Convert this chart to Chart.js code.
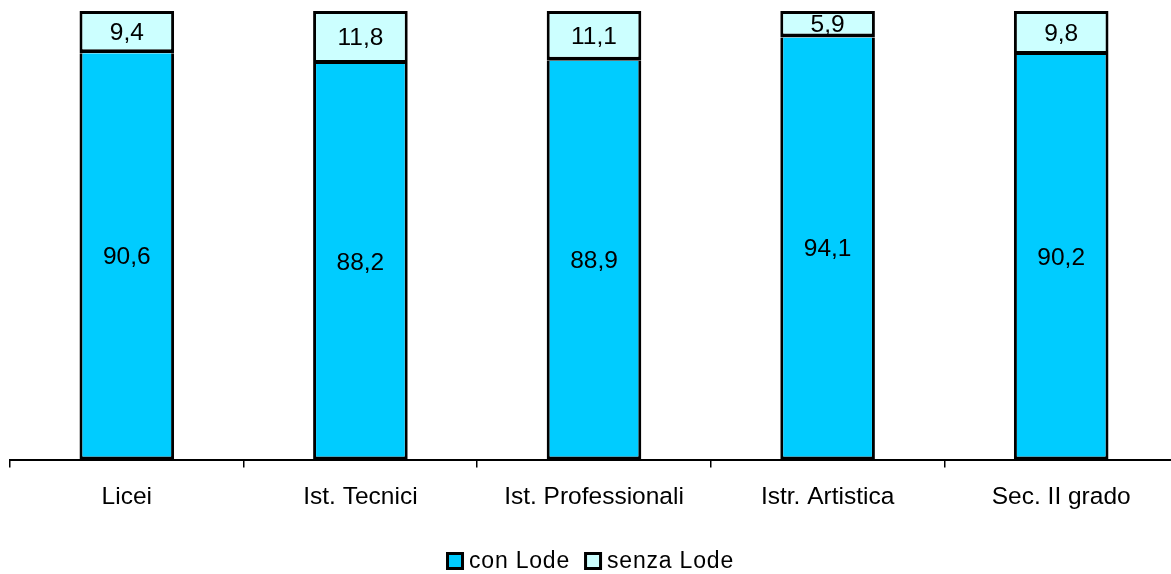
<!DOCTYPE html>
<html lang="it">
<head>
<meta charset="utf-8">
<title>Diplomati con 100: con Lode / senza Lode</title>
<script src="https://cdn.jsdelivr.net/npm/chart.js@4/dist/chart.umd.min.js"></script>
<style>
  html, body { margin: 0; padding: 0; background: #ffffff; overflow: hidden; }
  #wrap { width: 1180px; height: 574px; }
</style>
</head>
<body>
<div id="wrap"><canvas id="chart" width="1180" height="574"></canvas></div>
<script>
// Categorie (tipo di scuola)
const categories = ['Licei', 'Ist. Tecnici', 'Ist. Professionali', 'Istr. Artistica', 'Sec. II grado'];
// Percentuali per serie
const conLode = [90.6, 88.2, 88.9, 94.1, 90.2];
const senzaLode = [9.4, 11.8, 11.1, 5.9, 9.8];
const seriesNames = ['con Lode', 'senza Lode'];

const FONT = 'Liberation Sans, Arial, Helvetica, sans-serif';

// Etichette dei valori al centro di ogni segmento, con virgola decimale
const valueLabels = {
  id: 'valueLabels',
  afterDatasetsDraw(chart) {
    const ctx = chart.ctx;
    ctx.save();
    ctx.font = '24.5px ' + FONT;
    ctx.fillStyle = '#000000';
    ctx.textAlign = 'center';
    ctx.textBaseline = 'middle';
    chart.data.datasets.forEach((ds, di) => {
      const meta = chart.getDatasetMeta(di);
      meta.data.forEach((bar, i) => {
        const p = bar.getProps(['x', 'y', 'base'], true);
        const txt = ds.data[i].toFixed(1).replace('.', ',');
        ctx.fillText(txt, p.x, (p.y + p.base) / 2 + 1);
      });
    });
    ctx.restore();
  }
};

// Legenda in basso, centrata: quadratino bordato + nome della serie
const bottomLegend = {
  id: 'bottomLegend',
  afterDraw(chart) {
    const ctx = chart.ctx;
    const box = 18, gapText = 5, gapItem = 14;
    const cy = 561;
    ctx.save();
    ctx.font = '23px ' + FONT;
    ctx.letterSpacing = '0.8px';
    ctx.textBaseline = 'middle';
    ctx.textAlign = 'left';
    const items = chart.data.datasets.map(ds => ({
      text: ds.label,
      color: ds.backgroundColor,
      w: ctx.measureText(ds.label).width
    }));
    let total = 0;
    items.forEach((it, i) => {
      total += box + gapText + it.w + (i < items.length - 1 ? gapItem : 0);
    });
    let x = chart.width / 2 - total / 2;
    items.forEach(it => {
      ctx.fillStyle = it.color;
      ctx.fillRect(x, cy - box / 2, box, box);
      ctx.strokeStyle = '#000000';
      ctx.lineWidth = 3;
      ctx.strokeRect(x + 1.5, cy - box / 2 + 1.5, box - 3, box - 3);
      ctx.fillStyle = '#000000';
      ctx.fillText(it.text, x + box + gapText, cy + 1);
      x += box + gapText + it.w + gapItem;
    });
    ctx.restore();
  }
};

new Chart(document.getElementById('chart'), {
  type: 'bar',
  data: {
    labels: categories,
    datasets: [
      {
        label: seriesNames[0],
        data: conLode,
        backgroundColor: '#00CCFF',
        borderColor: '#000000',
        borderWidth: 3,
        borderSkipped: 'top',
        inflateAmount: 0,
        categoryPercentage: 1,
        barPercentage: 0.405
      },
      {
        label: seriesNames[1],
        data: senzaLode,
        backgroundColor: '#CCFFFF',
        borderColor: '#000000',
        borderWidth: { top: 3, left: 3, right: 3, bottom: 4 },
        borderSkipped: false,
        inflateAmount: 0,
        categoryPercentage: 1,
        barPercentage: 0.405
      }
    ]
  },
  options: {
    responsive: false,
    animation: false,
    devicePixelRatio: 1,
    layout: { padding: { left: 10, right: 2, top: 11, bottom: 47 } },
    scales: {
      x: {
        stacked: true,
        offset: true,
        border: { display: true, color: '#000000', width: 2 },
        grid: {
          offset: true,
          drawOnChartArea: false,
          drawTicks: true,
          tickLength: 8,
          color: '#000000',
          lineWidth: 1.5
        },
        ticks: {
          color: '#000000',
          font: { family: FONT, size: 24.5 },
          padding: 15,
          maxRotation: 0,
          autoSkip: false
        }
      },
      y: {
        stacked: true,
        display: false,
        min: 0,
        max: 100
      }
    },
    plugins: {
      legend: { display: false },
      tooltip: { enabled: false }
    }
  },
  plugins: [valueLabels, bottomLegend]
});
</script>
</body>
</html>
